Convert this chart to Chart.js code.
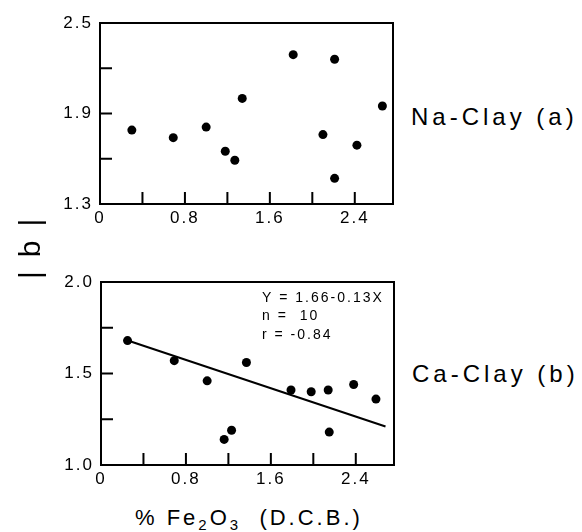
<!DOCTYPE html>
<html>
<head>
<meta charset="utf-8">
<script src="https://cdn.jsdelivr.net/npm/chart.js@4/dist/chart.umd.min.js"></script>
<style>
  body { margin: 0; background: #fff; }
  #wrap { position: relative; width: 582px; height: 532px; font-family: "Liberation Sans", Arial, sans-serif; color: #000; }
  canvas { position: absolute; left: 0; }
  .lbl { position: absolute; white-space: nowrap; line-height: 1; }
</style>
</head>
<body>
<div id="wrap">
  <canvas id="naChart" width="400" height="230" style="top:0"></canvas>
  <canvas id="caChart" width="400" height="230" style="top:260px"></canvas>
  <div class="lbl" style="left:411px; top:105px; font-size:24px; letter-spacing:4px">Na-Clay (a)</div>
  <div class="lbl" style="left:412px; top:362px; font-size:24px; letter-spacing:4px">Ca-Clay (b)</div>
  <div class="lbl" style="left:-10px; top:238px; width:80px; text-align:center; font-size:30px; letter-spacing:14px; text-indent:14px; transform:rotate(-90deg)">|b|</div>
  <div class="lbl" style="left:135px; top:507px; font-size:22px; letter-spacing:3px">% Fe<sub style="font-size:15px">2</sub>O<sub style="font-size:15px">3</sub>&nbsp; (D.C.B.)</div>
</div>
<script>
// Na-clay, panel (a)
const naX = [0.30, 0.69, 1.00, 1.18, 1.27, 1.34, 1.82, 2.10, 2.21, 2.21, 2.42, 2.66];
const naY = [1.79, 1.74, 1.81, 1.65, 1.59, 2.00, 2.29, 1.76, 2.26, 1.47, 1.69, 1.95];

// Ca-clay, panel (b)
const caX = [0.25, 0.69, 1.00, 1.16, 1.23, 1.37, 1.79, 1.98, 2.14, 2.15, 2.38, 2.59];
const caY = [1.68, 1.57, 1.46, 1.14, 1.19, 1.56, 1.41, 1.40, 1.41, 1.18, 1.44, 1.36];

// fitted line as drawn
const fitX = [0.28, 2.68];
const fitY = [1.675, 1.21];

const fitText = ['Y = 1.66-0.13X', 'n =  10', 'r = -0.84'];

const FONT = '"Liberation Sans", Arial, sans-serif';

const toPoints = (xs, ys) => xs.map((x, i) => ({x: x, y: ys[i]}));

// box around the plot plus the short inward ticks
const framePlugin = {
    id: 'frame',
    beforeDraw(chart) {
        chart.ctx.letterSpacing = '2px';
    },
    afterDraw(chart) {
        const ctx = chart.ctx;
        const a = chart.chartArea;
        const x = chart.scales.x, y = chart.scales.y;
        ctx.save();
        ctx.letterSpacing = '0px';
        ctx.strokeStyle = '#000';
        ctx.lineWidth = 2;
        ctx.strokeRect(a.left, a.top, a.right - a.left, a.bottom - a.top);
        ctx.lineWidth = 2;
        ctx.beginPath();
        x.ticks.forEach(t => {
            if (t.value <= x.min + 1e-6 || t.value >= x.max - 1e-6) return;
            const px = x.getPixelForValue(t.value);
            ctx.moveTo(px, a.bottom);
            ctx.lineTo(px, a.bottom - 12);
        });
        y.ticks.forEach(t => {
            if (t.value <= y.min + 1e-6 || t.value >= y.max - 1e-6) return;
            const py = y.getPixelForValue(t.value);
            ctx.moveTo(a.left, py);
            ctx.lineTo(a.left + 12, py);
        });
        ctx.stroke();
        ctx.restore();
    }
};

const notePlugin = {
    id: 'note',
    afterDraw(chart) {
        const lines = chart.options.plugins.note.lines;
        if (!lines) return;
        const ctx = chart.ctx;
        const a = chart.chartArea;
        ctx.save();
        ctx.font = '14px ' + FONT;
        ctx.letterSpacing = '2px';
        ctx.fillStyle = '#000';
        ctx.textBaseline = 'middle';
        lines.forEach((s, i) => ctx.fillText(s, a.left + 161, a.top + 16 + i * 18.5));
        ctx.restore();
    }
};

function every(step, base) {
    return (v) => {
        const k = (v - base) / step;
        return Math.abs(k - Math.round(k)) < 1e-6 ? v.toFixed(1) : '';
    };
}

function makeChart(id, datasets, yMin, yMax, yStep, yLabelStep, pad, axisW, axisH, note) {
    const config = {
        type: 'scatter',
        data: { datasets: datasets },
        options: {
            responsive: false,
            devicePixelRatio: 1,
            animation: false,
            layout: { padding: pad },
            plugins: {
                legend: { display: false },
                tooltip: { enabled: false },
                note: { lines: note }
            },
            scales: {
                x: {
                    type: 'linear',
                    min: 0,
                    max: 2.76,
                    grid: { display: false, drawTicks: false },
                    border: { display: false },
                    afterFit: (s) => { s.height = axisH; },
                    ticks: {
                        stepSize: 0.4,
                        includeBounds: false,
                        autoSkip: false,
                        maxRotation: 0,
                        padding: 4,
                        color: '#000',
                        font: { family: FONT, size: 17 },
                        callback: (v) => {
                            const k = v / 0.8;
                            return Math.abs(k - Math.round(k)) < 1e-6 ? (v === 0 ? '0' : v.toFixed(1)) : '';
                        }
                    }
                },
                y: {
                    type: 'linear',
                    min: yMin,
                    max: yMax,
                    grid: { display: false, drawTicks: false },
                    border: { display: false },
                    afterFit: (s) => { s.width = axisW; },
                    ticks: {
                        stepSize: yStep,
                        autoSkip: false,
                        padding: 7,
                        color: '#000',
                        font: { family: FONT, size: 17 },
                        callback: every(yLabelStep, yMin)
                    }
                }
            }
        },
        plugins: [framePlugin, notePlugin]
    };
    return new Chart(document.getElementById(id), config);
}

const dots = (xs, ys) => ({
    data: toPoints(xs, ys),
    pointRadius: 4.5,
    pointBackgroundColor: '#000',
    pointBorderWidth: 0,
    showLine: false
});

makeChart('naChart', [dots(naX, naY)],
    1.3, 2.5, 0.3, 0.6,
    { top: 23, right: 7, left: 0, bottom: 0 }, 100, 26, null);

makeChart('caChart', [
    dots(caX, caY),
    {
        data: toPoints(fitX, fitY),
        showLine: true,
        borderColor: '#000',
        borderWidth: 2,
        pointRadius: 0
    }
], 1.0, 2.0, 0.25, 0.5,
    { top: 22, right: 6, left: 0, bottom: 0 }, 101, 25, fitText);
</script>
</body>
</html>
